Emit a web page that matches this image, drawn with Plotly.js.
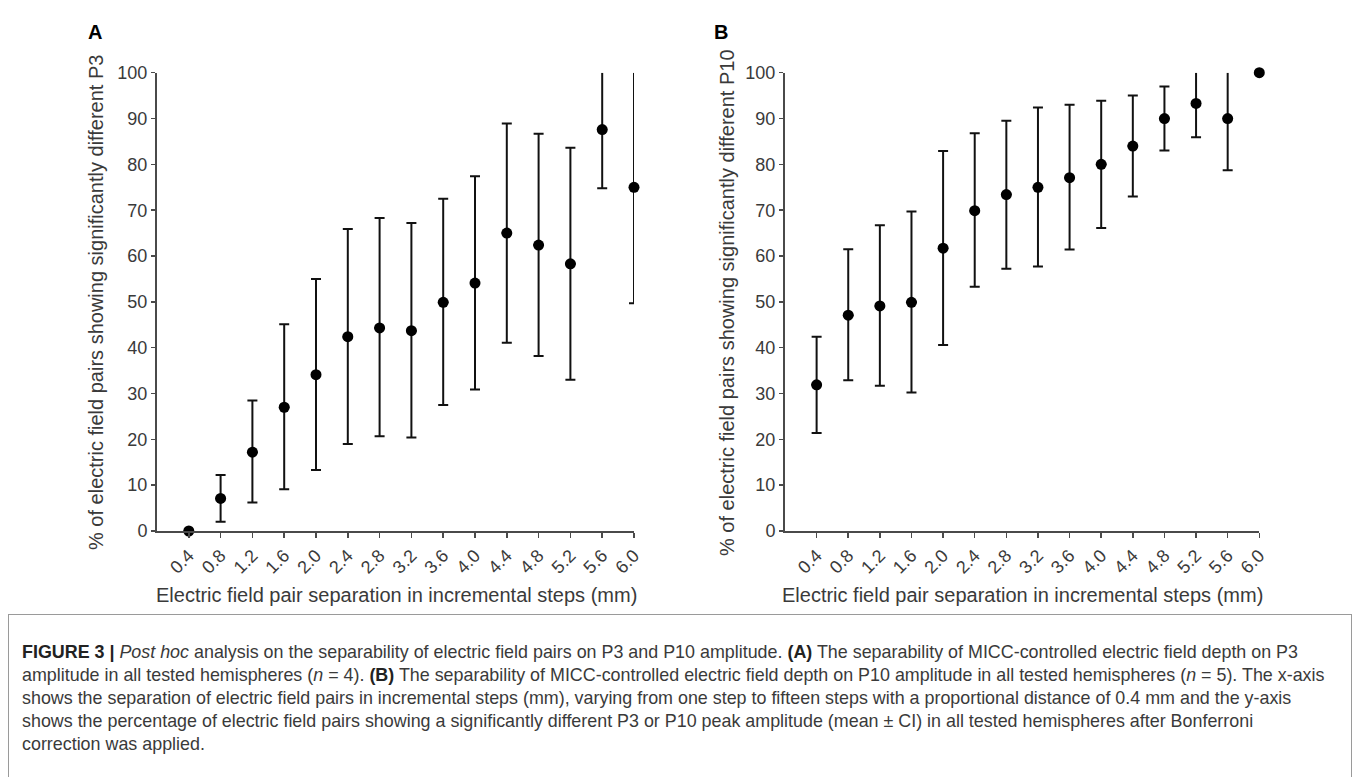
<!DOCTYPE html>
<html>
<head>
<meta charset="utf-8">
<script src="https://cdn.plot.ly/plotly-3.0.1.min.js"></script>
<style>
  html, body { margin: 0; padding: 0; background: #fff; }
  #wrap { position: relative; width: 1360px; height: 777px; overflow: hidden; }
  #chart { position: absolute; left: 0; top: 0; width: 1360px; height: 777px; }
  #capbox { position: absolute; left: 8px; top: 614px; width: 1344px; height: 200px;
            border: 1px solid #9a9a9a; box-sizing: border-box; }
  .capline { position: absolute; left: 22px; white-space: nowrap; font-family: "Liberation Sans", Arial, sans-serif;
             font-size: 19px; line-height: 23px; color: #3a3a3a; transform-origin: 0 50%; }
  .capline b { color: #222; }
</style>
</head>
<body>
<div id="wrap">
  <div id="chart"></div>
  <div id="capbox"></div>
  <div class="capline" id="cl1" style="top:640px"><b>FIGURE 3 |</b> <i>Post hoc</i> analysis on the separability of electric field pairs on P3 and P10 amplitude. <b>(A)</b> The separability of MICC-controlled electric field depth on P3</div>
  <div class="capline" id="cl2" style="top:663px">amplitude in all tested hemispheres (<i>n</i> = 4). <b>(B)</b> The separability of MICC-controlled electric field depth on P10 amplitude in all tested hemispheres (<i>n</i> = 5). The x-axis</div>
  <div class="capline" id="cl3" style="top:686px">shows the separation of electric field pairs in incremental steps (mm), varying from one step to fifteen steps with a proportional distance of 0.4 mm and the y-axis</div>
  <div class="capline" id="cl4" style="top:709px">shows the percentage of electric field pairs showing a significantly different P3 or P10 peak amplitude (mean ± CI) in all tested hemispheres after Bonferroni</div>
  <div class="capline" id="cl5" style="top:732px">correction was applied.</div>
</div>
<script>
// ---------- DATA ----------
const separation = [0.4, 0.8, 1.2, 1.6, 2.0, 2.4, 2.8, 3.2, 3.6, 4.0, 4.4, 4.8, 5.2, 5.6, 6.0];
const separationLabels = ['0.4','0.8','1.2','1.6','2.0','2.4','2.8','3.2','3.6','4.0','4.4','4.8','5.2','5.6','6.0'];

// Panel A: P3
const meanP3  = [0, 7.1, 17.2, 27.0, 34.1, 42.4, 44.3, 43.7, 49.9, 54.1, 65.0, 62.4, 58.3, 87.6, 75.0];
const upperP3 = [0, 12.2, 28.5, 45.1, 55.0, 65.9, 68.3, 67.2, 72.5, 77.4, 88.9, 86.7, 83.6, 100, 100];
const lowerP3 = [0, 2.0, 6.2, 9.1, 13.3, 19.0, 20.7, 20.4, 27.5, 30.9, 41.1, 38.2, 33.0, 74.8, 49.7];

// Panel B: P10
const meanP10  = [31.9, 47.1, 49.1, 49.9, 61.7, 69.9, 73.4, 75.0, 77.1, 80.0, 84.0, 90.0, 93.3, 90.0, 100];
const upperP10 = [42.4, 61.5, 66.7, 69.7, 82.9, 86.8, 89.5, 92.4, 93.0, 93.9, 95.0, 97.0, 100, 100, 100];
const lowerP10 = [21.4, 32.9, 31.7, 30.2, 40.6, 53.3, 57.2, 57.7, 61.4, 66.1, 73.0, 83.0, 85.9, 78.7, 100];

const yTicks = [0, 10, 20, 30, 40, 50, 60, 70, 80, 90, 100];

// ---------- BUILD ----------
const W = 1360, H = 777;
const px = v => v / W;
const py = v => 1 - v / H;
const barColor = '#111111';
const axisColor = '#4a4a4a';
const textColor = '#3a3a3a';
const FONT = 'Liberation Sans, Arial, sans-serif';

function panelTraces(mean, upper, lower, xa, ya) {
  const capIdx = [], openIdx = [];
  mean.forEach((m, i) => { (upper[i] >= 100 ? openIdx : capIdx).push(i); });
  const pick = (arr, idx) => idx.map(i => arr[i]);
  const base = { type: 'scatter', mode: 'markers', marker: { size: 1, opacity: 0 },
                 xaxis: xa, yaxis: ya, hoverinfo: 'skip', showlegend: false, cliponaxis: false };
  const tUpCap = Object.assign({}, base, {
    x: pick(separation, capIdx), y: pick(mean, capIdx),
    error_y: { type: 'data', symmetric: false,
               array: capIdx.map(i => upper[i] - mean[i]), arrayminus: capIdx.map(() => 0),
               width: 5, thickness: 2, color: barColor }
  });
  const tUpOpen = Object.assign({}, base, {
    x: pick(separation, openIdx), y: pick(mean, openIdx),
    error_y: { type: 'data', symmetric: false,
               array: openIdx.map(i => upper[i] - mean[i]), arrayminus: openIdx.map(() => 0),
               width: 0, thickness: 2, color: barColor }
  });
  const tLow = Object.assign({}, base, {
    x: separation, y: mean,
    error_y: { type: 'data', symmetric: false,
               array: mean.map(() => 0), arrayminus: mean.map((m, i) => m - lower[i]),
               width: 5, thickness: 2, color: barColor }
  });
  const tPts = { type: 'scatter', mode: 'markers', x: separation, y: mean, xaxis: xa, yaxis: ya,
                 marker: { size: 11, color: '#000' }, cliponaxis: false, showlegend: false };
  return [tUpCap, tUpOpen, tLow, tPts];
}

const traces = [].concat(
  panelTraces(meanP3, upperP3, lowerP3, 'x', 'y'),
  panelTraces(meanP10, upperP10, lowerP10, 'x2', 'y2')
);

function xAxis(domain, anchor) {
  return { domain: domain, anchor: anchor, range: [0, 6.0], showgrid: false, zeroline: false,
           showline: true, linecolor: axisColor, linewidth: 2,
           ticks: 'outside', ticklen: 5, tickwidth: 1.5, tickcolor: axisColor,
           tickvals: separation, ticktext: separationLabels, tickangle: -45,
           tickfont: { family: FONT, size: 18, color: textColor } };
}
function yAxis(domain, anchor) {
  return { domain: domain, anchor: anchor, range: [0, 100], showgrid: false, zeroline: false,
           showline: true, linecolor: axisColor, linewidth: 2,
           ticks: 'outside', ticklen: 4, tickwidth: 1.5, tickcolor: axisColor,
           tickvals: yTicks, ticktext: yTicks.map(String),
           tickfont: { family: FONT, size: 18, color: textColor } };
}

const yDom = [py(531), py(72.7)];
const xTitle = 'Electric field pair separation in incremental steps (mm)';
const ann = (text, x, y, opts) => Object.assign({ text: text, xref: 'paper', yref: 'paper', x: px(x), y: py(y),
  xanchor: 'center', yanchor: 'middle', showarrow: false,
  font: { family: FONT, size: 20, color: textColor } }, opts || {});

const layout = {
  width: W, height: H, margin: { l: 0, r: 0, t: 0, b: 0 },
  paper_bgcolor: '#fff', plot_bgcolor: '#fff', showlegend: false,
  xaxis: xAxis([px(157), px(634)], 'y'),
  yaxis: yAxis(yDom, 'x'),
  xaxis2: xAxis([px(785), px(1259.3)], 'y2'),
  yaxis2: yAxis(yDom, 'x2'),
  annotations: [
    ann('<b>A</b>', 95, 32, { font: { family: FONT, size: 20, color: '#000' } }),
    ann('<b>B</b>', 721, 32, { font: { family: FONT, size: 20, color: '#000' } }),
    ann('% of electric field pairs showing significantly different P3', 96, 303, { textangle: -90 }),
    ann('% of electric field pairs showing significantly different P10', 727, 303, { textangle: -90 }),
    ann(xTitle, 396, 595),
    ann(xTitle, 1022, 595)
  ]
};

Plotly.newPlot('chart', traces, layout, { staticPlot: true, displayModeBar: false }).then(() => {
  const l1 = document.getElementById('cl1');
  const s = 1276 / l1.getBoundingClientRect().width;
  document.querySelectorAll('.capline').forEach(el => { el.style.transform = 'scaleX(' + s + ')'; });
});
</script>
</body>
</html>
